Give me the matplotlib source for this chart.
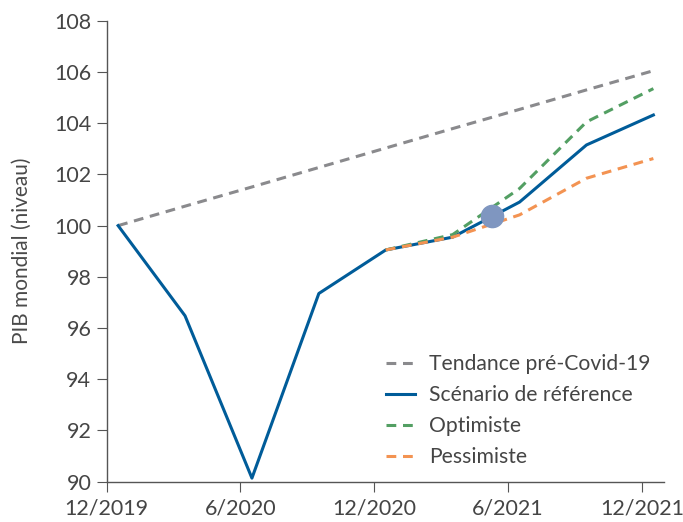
import matplotlib
matplotlib.use('Agg')
import matplotlib.pyplot as plt
import numpy as np

plt.rcParams['font.family'] = ['Lato', 'DejaVu Sans']

# quarterly data, Q4 2019 .. Q4 2021
quarters = np.arange(9) + 0.173
trend = [100.0, 100.76, 101.51, 102.27, 103.03, 103.79, 104.54, 105.30, 106.05]
baseline = [100.0, 96.48, 90.14, 97.35, 99.05, 99.55, 100.92, 103.15, 104.32]
optimist = [99.05, 99.65, 101.45, 104.05, 105.35]
pessimist = [99.05, 99.55, 100.42, 101.85, 102.62]
marker_x, marker_y = 5.755, 100.39

tick_pos = [0, 2, 4, 6, 8]
tick_labels = ['12/2019', '6/2020', '12/2020', '6/2021', '12/2021']

fig = plt.figure(figsize=(6.83, 5.22), dpi=100)
ax = fig.add_axes([0.156, 0.0772, 0.816, 0.883])

ax.plot(quarters, trend, color='#8a8a8d', lw=2.2, dashes=(3.2, 2.2), label='Tendance pré-Covid-19')
ax.plot(quarters, baseline, color='#005c99', lw=2.2, label='Scénario de référence')
ax.plot(quarters[4:], optimist, color='#539f63', lw=2.2, dashes=(3.2, 2.2), label='Optimiste')
ax.plot(quarters[4:], pessimist, color='#f39352', lw=2.2, dashes=(3.2, 2.2), label='Pessimiste')
ax.plot([marker_x], [marker_y], 'o', ms=16, color='#7f96c0', zorder=5)

ax.set_xlim(0, 8.33)
ax.set_ylim(90, 108)
ax.set_yticks(np.arange(90, 109, 2))
ax.set_xticks(tick_pos)
ax.set_xticklabels(tick_labels)

for s in ['top', 'right']:
    ax.spines[s].set_visible(False)
for s in ['left', 'bottom']:
    ax.spines[s].set_color('#555555')
    ax.spines[s].set_linewidth(1.0)
ax.tick_params(axis='both', colors='#555555', labelcolor='#454545', labelsize=15.5, length=7)
ax.tick_params(axis='x', pad=5)
ax.tick_params(axis='y', pad=4)

ax.set_ylabel('PIB mondial (niveau)', fontsize=15, color='#4a4a4a', labelpad=16)

ax.legend(loc='lower right', bbox_to_anchor=(1.01, -0.01), frameon=False, fontsize=15.2,
          handlelength=1.4, handletextpad=0.65, labelspacing=0.52, labelcolor='#454545')

plt.savefig('out.png', dpi=100)
